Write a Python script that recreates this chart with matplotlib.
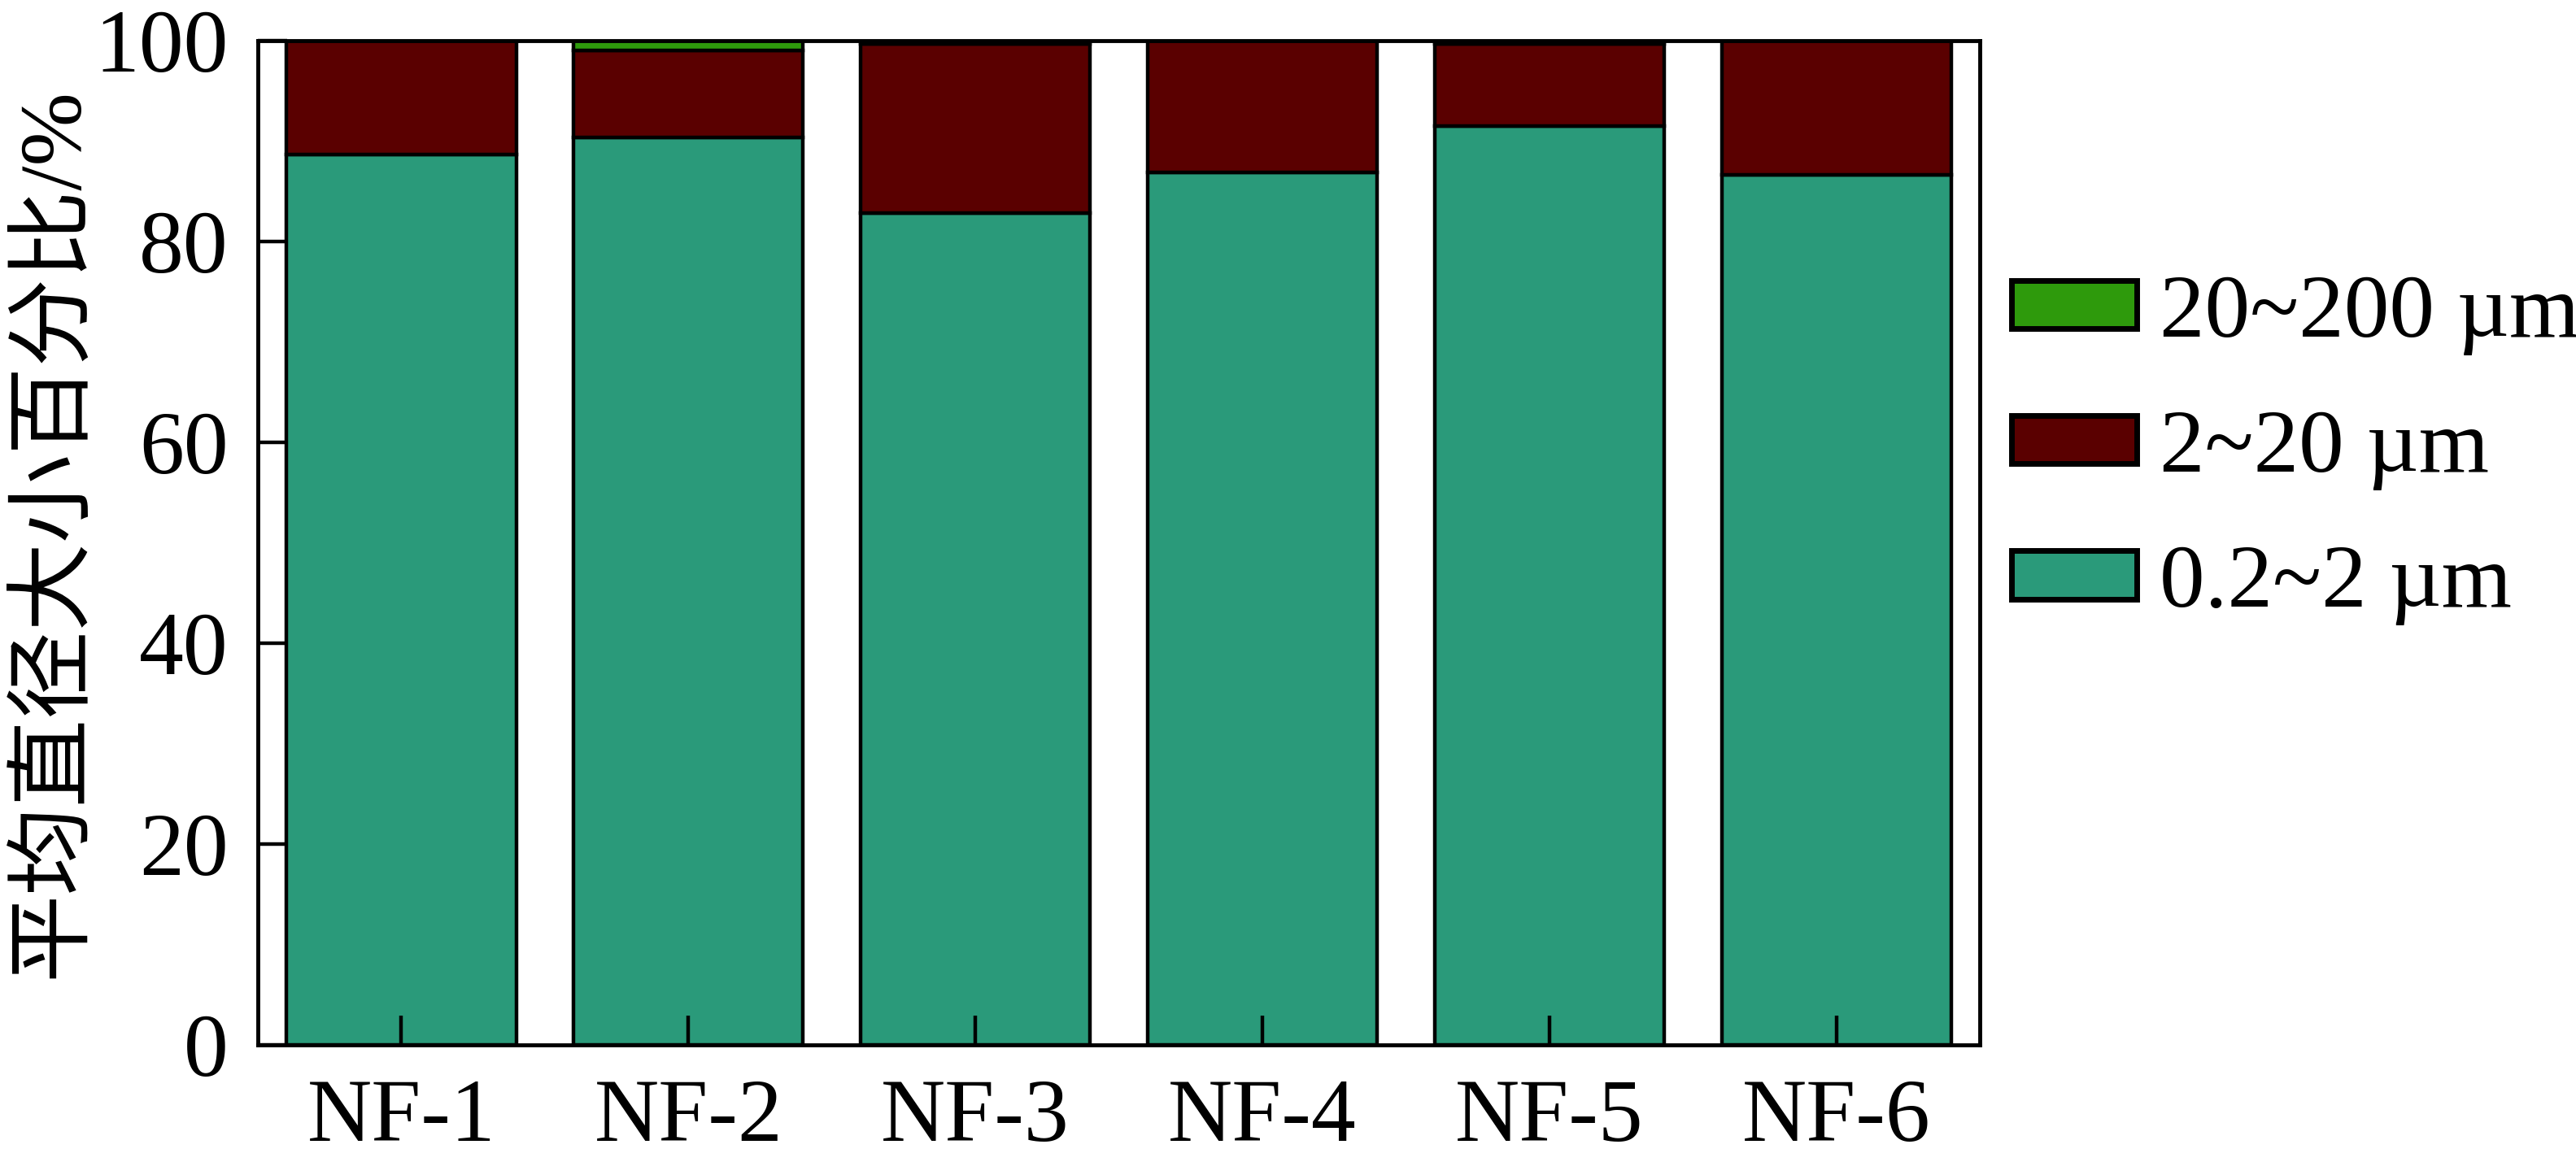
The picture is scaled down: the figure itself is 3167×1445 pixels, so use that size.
import matplotlib.pyplot as plt
from matplotlib.patches import Patch

# 样品与各粒径区间所占百分比
samples = ['NF-1', 'NF-2', 'NF-3', 'NF-4', 'NF-5', 'NF-6']
small = [88.7, 90.4, 82.8, 86.9, 91.5, 86.6]      # 0.2~2 µm
medium = [11.3, 8.6, 16.9, 13.1, 8.2, 13.4]       # 2~20 µm
large = [0.0, 1.0, 0.3, 0.0, 0.3, 0.0]            # 20~200 µm

labels = ['0.2~2 µm', '2~20 µm', '20~200 µm']
colors = ['#2A9A7A', '#5A0000', '#2E9A0C']

plt.rcParams['font.family'] = ['Liberation Serif', 'Noto Sans CJK SC']

fig = plt.figure(figsize=(31.67, 14.45), dpi=100)
ax = fig.add_axes([0.1001, 0.1107, 0.6685, 0.8547])

x = range(len(samples))
lw = 3.2
ax.bar(x, small, width=0.8, color=colors[0], edgecolor='black', linewidth=lw)
ax.bar(x, medium, width=0.8, bottom=small, color=colors[1], edgecolor='black', linewidth=lw)
bottom2 = [a + b for a, b in zip(small, medium)]
ax.bar(x, large, width=0.8, bottom=bottom2, color=colors[2], edgecolor='black', linewidth=lw)

ax.set_xlim(-0.5, 5.5)
ax.set_ylim(0, 100)
ax.set_xticks(list(x))
ax.set_xticklabels(samples)
ax.set_yticks([0, 20, 40, 60, 80, 100])
ax.tick_params(axis='both', direction='in', length=26, width=3.2, labelsize=79)
ax.tick_params(axis='x', pad=30)
ax.tick_params(axis='y', pad=26)
for s in ax.spines.values():
    s.set_linewidth(3.5)

ax.set_ylabel('平均直径大小百分比/%', fontsize=78)
ax.yaxis.set_label_coords(-0.094, 0.51)

handles = [Patch(facecolor=colors[i], edgecolor='black', linewidth=5, label=labels[i])
           for i in [2, 1, 0]]
fig.legend(handles=handles, loc='center left', bbox_to_anchor=(0.781, 0.617),
           frameon=False, fontsize=80, handlelength=1.38, handleheight=0.45,
           handletextpad=0.25, labelspacing=0.6, borderpad=0, borderaxespad=0)

fig.savefig('out.png', dpi=100)
